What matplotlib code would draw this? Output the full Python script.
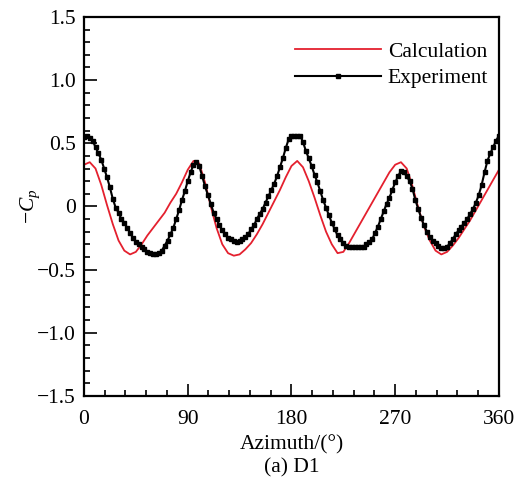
import numpy as np
import matplotlib
matplotlib.use("Agg")
import matplotlib.pyplot as plt
from matplotlib.ticker import MultipleLocator

plt.rcParams["font.family"] = ["Liberation Serif", "DejaVu Serif"]
plt.rcParams["mathtext.fontset"] = "custom"
plt.rcParams["mathtext.it"] = "Liberation Serif:italic"
plt.rcParams["mathtext.rm"] = "Liberation Serif"

# ---- data ----
calc_az = np.arange(0, 360.1, 5.0)
calc_cp = [0.33, 0.35, 0.30, 0.17, 0.01, -0.14, -0.27, -0.35, -0.38, -0.36,
           -0.30, -0.23, -0.17, -0.11, -0.05, 0.03, 0.10, 0.19, 0.29, 0.36,
           0.34, 0.19, 0.00, -0.17, -0.30, -0.37, -0.39, -0.38, -0.34, -0.29,
           -0.22, -0.14, -0.05, 0.04, 0.13, 0.23, 0.32, 0.36, 0.31, 0.20,
           0.07, -0.07, -0.20, -0.30, -0.37, -0.36, -0.29, -0.21, -0.13, -0.05,
           0.03, 0.11, 0.19, 0.27, 0.33, 0.35, 0.30, 0.16, -0.01, -0.16,
           -0.27, -0.35, -0.38, -0.36, -0.31, -0.25, -0.18, -0.11, -0.03, 0.05,
           0.13, 0.21, 0.29]

exp_az = np.arange(0, 360.1, 2.5)
exp_cp = [0.55, 0.56, 0.54, 0.52, 0.47, 0.42, 0.37, 0.30, 0.23, 0.15,
          0.06, -0.01, -0.05, -0.10, -0.13, -0.17, -0.21, -0.25, -0.28, -0.30,
          -0.32, -0.34, -0.36, -0.37, -0.38, -0.38, -0.37, -0.35, -0.31, -0.27,
          -0.22, -0.17, -0.10, -0.03, 0.05, 0.12, 0.20, 0.27, 0.33, 0.35,
          0.32, 0.24, 0.16, 0.09, 0.02, -0.05, -0.10, -0.15, -0.19, -0.22,
          -0.25, -0.26, -0.27, -0.28, -0.27, -0.26, -0.24, -0.22, -0.18, -0.15,
          -0.10, -0.06, -0.02, 0.03, 0.08, 0.13, 0.18, 0.24, 0.31, 0.38,
          0.46, 0.53, 0.56, 0.56, 0.56, 0.56, 0.51, 0.44, 0.38, 0.32,
          0.25, 0.19, 0.12, 0.05, -0.01, -0.07, -0.13, -0.18, -0.23, -0.26,
          -0.29, -0.31, -0.32, -0.32, -0.32, -0.32, -0.32, -0.32, -0.30, -0.28,
          -0.26, -0.21, -0.16, -0.10, -0.04, 0.02, 0.07, 0.13, 0.19, 0.24,
          0.28, 0.27, 0.24, 0.20, 0.14, 0.05, -0.02, -0.09, -0.15, -0.20,
          -0.24, -0.27, -0.29, -0.31, -0.33, -0.33, -0.32, -0.29, -0.26, -0.22,
          -0.19, -0.16, -0.13, -0.10, -0.06, -0.02, 0.03, 0.09, 0.17, 0.27,
          0.36, 0.42, 0.47, 0.52, 0.56]

yticks = [1.5, 1.0, 0.5, 0, -0.5, -1.0, -1.5]
ytick_labels = ["1.5", "1.0", "0.5", "0", "\u22120.5", "\u22121.0", "\u22121.5"]
xticks = [0, 90, 180, 270, 360]

FS = 15.5
fig = plt.figure(figsize=(5.2, 4.9), dpi=100)
ax = fig.add_axes([0.1615, 0.192, 0.798, 0.7735])

ax.plot(calc_az, calc_cp, color="#E4202E", lw=1.3, label="Calculation")
ax.plot(exp_az, exp_cp, color="black", lw=1.5, marker="s", ms=2.6, label="Experiment")

ax.set_xlim(0, 360); ax.set_ylim(-1.5, 1.5)
ax.set_xticks(xticks); ax.set_xticklabels([str(t) for t in xticks])
ax.set_yticks(yticks); ax.set_yticklabels(ytick_labels)
ax.xaxis.set_minor_locator(MultipleLocator(18))
ax.yaxis.set_minor_locator(MultipleLocator(0.1))
ax.tick_params(which="both", direction="in", top=False, right=False, labelsize=FS, width=1.2)
ax.tick_params(which="major", length=9)
ax.tick_params(which="minor", length=4.5)
ax.tick_params(axis="x", which="major", pad=10)
ax.tick_params(axis="y", which="major", pad=6)
for s in ax.spines.values():
    s.set_linewidth(1.6)

ax.set_xlabel("Azimuth/(\u00b0)", fontsize=FS)
ax.set_ylabel("$-C_p$", fontsize=FS)
ax.xaxis.set_label_coords(0.5, -0.102)
ax.yaxis.set_label_coords(-0.1, 0.5)

ax.legend(loc="upper right", bbox_to_anchor=(1.01, 0.975), frameon=False, fontsize=FS,
          handlelength=4.0, handletextpad=0.3, labelspacing=0.3, borderaxespad=0.3)

fig.text(0.561, 0.045, "(a) D1", ha="center", va="center", fontsize=FS)

fig.savefig("out.png", dpi=100)
